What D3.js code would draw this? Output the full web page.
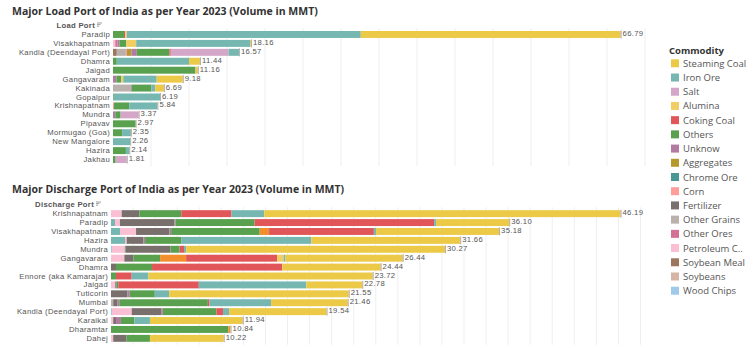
<!DOCTYPE html>
<html>
<head>
<meta charset="utf-8">
<script src="https://cdn.jsdelivr.net/npm/d3@7"></script>
<style>
  body { margin: 0; background: #fff; }
  svg { font-family: "Open Sans", "Noto Sans", sans-serif; }
  .small { font-family: "Liberation Sans", Arial, sans-serif; letter-spacing: 0.3px; }
</style>
</head>
<body>
<svg id="chart" width="756" height="348"></svg>
<script>
// commodities in stacking order (left -> right); "Clinker" and "Limestone" only show up in the discharge chart
const stackOrder = ["Clinker", "Wood Chips", "Soybeans", "Soybean Meal", "Petroleum Coke", "Other Ores",
  "Other Grains", "Fertilizer", "Corn", "Chrome Ore", "Aggregates", "Unknow", "Others", "Limestone",
  "Coking Coal", "Alumina", "Salt", "Iron Ore", "Steaming Coal"];
const stackColors = ["#76b7b2", "#a0cbe8", "#d7b5a6", "#9d7660", "#fabfd2", "#d37295",
  "#bab0ac", "#79706e", "#ff9d9a", "#499894", "#b6992d", "#b07aa1", "#59a14f", "#f28e2b",
  "#e15759", "#f1ce63", "#d4a6c8", "#76b7b2", "#edc948"];

// legend (as shown)
const legendKeys = ["Steaming Coal", "Iron Ore", "Salt", "Alumina", "Coking Coal", "Others", "Unknow",
  "Aggregates", "Chrome Ore", "Corn", "Fertilizer", "Other Grains", "Other Ores", "Petroleum Coke",
  "Soybean Meal", "Soybeans", "Wood Chips"];
const legendLabels = ["Steaming Coal", "Iron Ore", "Salt", "Alumina", "Coking Coal", "Others", "Unknow",
  "Aggregates", "Chrome Ore", "Corn", "Fertilizer", "Other Grains", "Other Ores", "Petroleum C..",
  "Soybean Meal", "Soybeans", "Wood Chips"];

// load ports
const loadPorts = ["Paradip", "Visakhapatnam", "Kandla (Deendayal Port)", "Dhamra", "Jaigad", "Gangavaram",
  "Kakinada", "Gopalpur", "Krishnapatnam", "Mundra", "Pipavav", "Mormugao (Goa)", "New Mangalore", "Hazira", "Jakhau"];
const loadTotals = [66.79, 18.16, 16.57, 11.44, 11.16, 9.18, 6.69, 6.19, 5.84, 3.37, 2.97, 2.35, 2.26, 2.14, 1.81];
const loadMix = [
  {"Others": 1.45, "Coking Coal": 0.17, "Alumina": 0.18, "Iron Ore": 30.8, "Steaming Coal": 34.19},
  {"Petroleum Coke": 0.3, "Other Ores": 0.3, "Unknow": 0.25, "Others": 0.9, "Alumina": 1.3, "Iron Ore": 15.0, "Steaming Coal": 0.11},
  {"Soybean Meal": 0.5, "Other Grains": 1.2, "Corn": 0.13, "Aggregates": 0.6, "Unknow": 0.7, "Others": 4.3, "Coking Coal": 0.17, "Salt": 7.6, "Iron Ore": 1.37},
  {"Others": 0.5, "Iron Ore": 9.5, "Steaming Coal": 1.44},
  {"Others": 10.85, "Steaming Coal": 0.31},
  {"Unknow": 0.45, "Others": 0.6, "Alumina": 0.3, "Iron Ore": 4.4, "Steaming Coal": 3.43},
  {"Other Grains": 2.3, "Unknow": 0.15, "Others": 2.6, "Iron Ore": 0.5, "Steaming Coal": 1.14},
  {"Others": 0.1, "Iron Ore": 6.09},
  {"Corn": 0.13, "Others": 2.0, "Iron Ore": 3.71},
  {"Unknow": 0.3, "Others": 0.7, "Salt": 2.37},
  {"Others": 2.97},
  {"Others": 1.2, "Iron Ore": 1.15},
  {"Iron Ore": 2.26},
  {"Others": 1.7, "Iron Ore": 0.44},
  {"Others": 0.35, "Salt": 1.46}
];

// discharge ports
const dischargePorts = ["Krishnapatnam", "Paradip", "Visakhapatnam", "Hazira", "Mundra", "Gangavaram", "Dhamra",
  "Ennore (aka Kamarajar)", "Jaigad", "Tuticorin", "Mumbai", "Kandla (Deendayal Port)", "Karaikal", "Dharamtar", "Dahej"];
const dischargeTotals = [46.19, 36.10, 35.18, 31.66, 30.27, 26.44, 24.44, 23.72, 22.78, 21.55, 21.46, 19.54, 11.94, 10.84, 10.22];
const dischargeMix = [
  {"Petroleum Coke": 0.97, "Fertilizer": 1.6, "Others": 3.8, "Coking Coal": 4.55, "Iron Ore": 2.97, "Steaming Coal": 32.3},
  {"Clinker": 0.36, "Petroleum Coke": 0.45, "Fertilizer": 4.94, "Unknow": 0.09, "Others": 7.18, "Coking Coal": 16.27, "Iron Ore": 0.18, "Steaming Coal": 6.63},
  {"Clinker": 0.82, "Petroleum Coke": 1.45, "Fertilizer": 3.03, "Unknow": 0.15, "Others": 8.03, "Limestone": 0.85, "Coking Coal": 9.5, "Iron Ore": 0.2, "Steaming Coal": 11.15},
  {"Clinker": 1.27, "Petroleum Coke": 0.15, "Fertilizer": 1.52, "Unknow": 0.15, "Others": 3.27, "Iron Ore": 11.8, "Steaming Coal": 13.5},
  {"Wood Chips": 0.09, "Petroleum Coke": 1.12, "Other Grains": 0.09, "Fertilizer": 4.1, "Others": 0.82, "Coking Coal": 0.4, "Iron Ore": 0.2, "Steaming Coal": 23.45},
  {"Petroleum Coke": 1.21, "Fertilizer": 0.82, "Others": 2.42, "Limestone": 2.36, "Coking Coal": 8.24, "Alumina": 0.6, "Iron Ore": 0.15, "Steaming Coal": 10.64},
  {"Fertilizer": 0.45, "Others": 3.27, "Coking Coal": 11.8, "Steaming Coal": 8.92},
  {"Others": 0.45, "Coking Coal": 1.42, "Iron Ore": 1.52, "Steaming Coal": 20.33},
  {"Petroleum Coke": 0.39, "Fertilizer": 0.12, "Others": 0.15, "Coking Coal": 7.3, "Iron Ore": 9.75, "Steaming Coal": 5.07},
  {"Fertilizer": 1.5, "Others": 2.27, "Unknow": 0.2, "Iron Ore": 1.3, "Steaming Coal": 16.28},
  {"Other Grains": 0.2, "Fertilizer": 0.4, "Unknow": 0.15, "Others": 8.03, "Coking Coal": 0.15, "Iron Ore": 5.58, "Steaming Coal": 6.95},
  {"Wood Chips": 0.09, "Petroleum Coke": 1.79, "Fertilizer": 2.67, "Unknow": 0.15, "Others": 4.85, "Coking Coal": 0.6, "Iron Ore": 0.55, "Steaming Coal": 8.84},
  {"Petroleum Coke": 0.2, "Fertilizer": 0.25, "Unknow": 0.45, "Others": 1.21, "Iron Ore": 1.42, "Steaming Coal": 8.41},
  {"Others": 10.64, "Limestone": 0.15, "Steaming Coal": 0.05},
  {"Petroleum Coke": 0.2, "Fertilizer": 1.21, "Others": 2.12, "Steaming Coal": 6.69}
];

const svg = d3.select("#chart");
const color = d3.scaleOrdinal().domain(stackOrder).range(stackColors);

function drawPanel(opt) {
  const g = svg.append("g");
  const x = d3.scaleLinear().domain([0, opt.max]).range([opt.x0, opt.x1]);
  const y = d3.scaleBand().domain(opt.ports).range(opt.yRange).paddingInner(0.22).paddingOuter(0.11);

  // title
  g.append("text")
    .attr("x", 12).attr("y", opt.titleY)
    .attr("dominant-baseline", "central")
    .attr("font-size", 10.5).attr("font-weight", 700).attr("fill", "#333")
    .text(opt.title);

  // header for the port column + little sort icon
  g.append("text")
    .attr("class", "small")
    .attr("x", opt.headerX).attr("y", opt.headerY)
    .attr("text-anchor", "end").attr("dominant-baseline", "central")
    .attr("font-size", 7.7).attr("font-weight", 700).attr("fill", "#555")
    .text(opt.header);
  const ix = opt.headerX + 2, iy = opt.headerY - 2;
  [0, 1, 2].forEach(i => {
    g.append("line").attr("x1", ix).attr("x2", ix + 5 - i * 1.5)
      .attr("y1", iy + i * 1.6).attr("y2", iy + i * 1.6)
      .attr("stroke", "#777").attr("stroke-width", 0.7);
  });

  // gridlines
  g.selectAll(".grid")
    .data(d3.range(opt.tickStep, opt.max + 0.01, opt.tickStep))
    .join("line")
    .attr("x1", d => x(d)).attr("x2", d => x(d))
    .attr("y1", opt.yRange[0] - 2).attr("y2", opt.yRange[1] + 2)
    .attr("stroke", "#efefef").attr("stroke-width", 1);

  // row labels
  g.selectAll(".lbl")
    .data(opt.ports)
    .join("text")
    .attr("class", "small")
    .attr("x", opt.x0 - 3)
    .attr("y", d => y(d) + y.bandwidth() / 2)
    .attr("text-anchor", "end").attr("dominant-baseline", "central")
    .attr("font-size", 7.7).attr("fill", "#555")
    .text(d => d);

  // stacked segments
  const rows = opt.ports.map((p, i) => {
    let acc = 0;
    const segs = [];
    stackOrder.forEach(k => {
      const v = opt.mix[i][k];
      if (v) { segs.push({ port: p, key: k, a: acc, b: acc + v }); acc += v; }
    });
    return segs;
  });
  g.selectAll(".seg")
    .data(rows.flat())
    .join("rect")
    .attr("x", d => x(d.a))
    .attr("width", d => Math.max(0.5, x(d.b) - x(d.a)))
    .attr("y", d => y(d.port))
    .attr("height", y.bandwidth())
    .attr("fill", d => color(d.key));

  // end tick + value labels
  g.selectAll(".endtick")
    .data(opt.ports)
    .join("line")
    .attr("x1", (d, i) => x(opt.totals[i]) + 0.5).attr("x2", (d, i) => x(opt.totals[i]) + 0.5)
    .attr("y1", d => y(d) - 0.5).attr("y2", d => y(d) + y.bandwidth() + 0.5)
    .attr("stroke", "#999").attr("stroke-width", 0.8);
  g.selectAll(".val")
    .data(opt.ports)
    .join("text")
    .attr("class", "small")
    .attr("x", (d, i) => x(opt.totals[i]) + 2)
    .attr("y", d => y(d) + y.bandwidth() / 2 - 1)
    .attr("dominant-baseline", "central")
    .attr("font-size", 7.7).attr("fill", "#555")
    .text((d, i) => opt.totals[i].toFixed(2));
}

drawPanel({
  title: "Major Load Port of India as per Year 2023 (Volume in MMT)", titleY: 11,
  header: "Load Port", headerX: 95, headerY: 25,
  ports: loadPorts, totals: loadTotals, mix: loadMix,
  max: 70, tickStep: 5, x0: 113, x1: 645, yRange: [30, 164]
});

drawPanel({
  title: "Major Discharge Port of India as per Year 2023 (Volume in MMT)", titleY: 189,
  header: "Discharge Port", headerX: 94, headerY: 204,
  ports: dischargePorts, totals: dischargeTotals, mix: dischargeMix,
  max: 48, tickStep: 2, x0: 111, x1: 640.5, yRange: [209.2, 342.8]
});

// legend
const leg = svg.append("g");
leg.append("text")
  .attr("x", 669).attr("y", 50)
  .attr("dominant-baseline", "central")
  .attr("font-size", 9.5).attr("font-weight", 700).attr("fill", "#333")
  .text("Commodity");
const legY = d3.scalePoint().domain(legendKeys).range([63.3, 290.7]);
leg.selectAll(".sw")
  .data(legendKeys)
  .join("rect")
  .attr("x", 671).attr("y", d => legY(d) - 4)
  .attr("width", 8).attr("height", 8)
  .attr("fill", d => color(d));
leg.selectAll(".lt")
  .data(legendKeys)
  .join("text")
  .attr("x", 683).attr("y", d => legY(d))
  .attr("dominant-baseline", "central")
  .attr("font-size", 9.5).attr("fill", "#555")
  .text((d, i) => legendLabels[i]);
</script>
</body>
</html>
